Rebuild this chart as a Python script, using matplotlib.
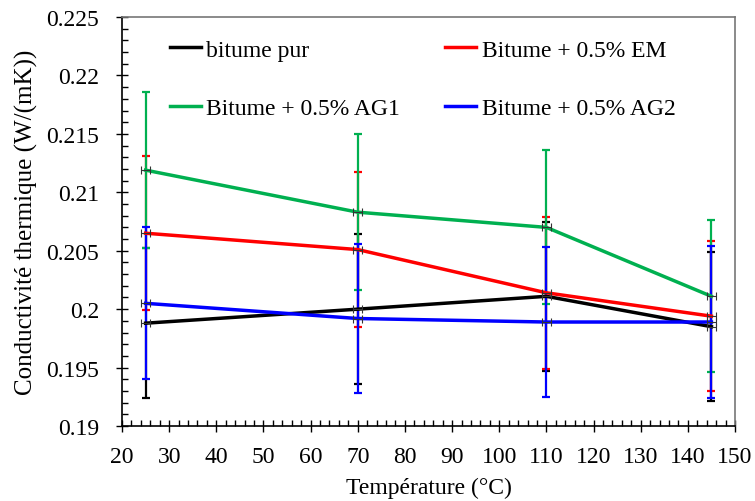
import matplotlib.pyplot as plt
from matplotlib.ticker import MultipleLocator

plt.rcParams['font.family'] = ['Liberation Serif', 'DejaVu Serif']

# températures (°C)
temperature = [25, 70, 110, 145]
x_err = [1, 1, 1, 1]

# conductivité thermique W/(mK)
bitume_pur = [0.1988, 0.2000, 0.2011, 0.1985]
bitume_em = [0.2065, 0.2051, 0.2014, 0.1994]
bitume_ag1 = [0.2119, 0.2083, 0.2070, 0.2011]
bitume_ag2 = [0.2005, 0.1992, 0.1989, 0.1989]

err_pur = [0.0064, 0.0064, 0.0064, 0.0064]
err_em = [0.0066, 0.0066, 0.0065, 0.0064]
err_ag1 = [0.0067, 0.0067, 0.0066, 0.0065]
err_ag2 = [0.0065, 0.0064, 0.0064, 0.0065]

labels = ['bitume pur', 'Bitume + 0.5% EM', 'Bitume + 0.5% AG1', 'Bitume + 0.5% AG2']
colors = ['black', '#ff0000', '#00b050', '#0000ff']
series = [bitume_pur, bitume_em, bitume_ag1, bitume_ag2]
errors = [err_pur, err_em, err_ag1, err_ag2]

fig = plt.figure(figsize=(7.55, 5.02), dpi=100)
ax = fig.add_axes([0.1616, 0.1494, 0.8119, 0.8146])

handles = {}
for lab, col, y, e in zip(labels, colors, series, errors):
    ax.errorbar(temperature, y, yerr=e, fmt='none', ecolor=col,
                elinewidth=1.6, capsize=3, capthick=1.6, zorder=2)
    ax.errorbar(temperature, y, xerr=x_err, fmt='none', ecolor='#333333',
                elinewidth=0.8, capsize=3, capthick=0.8, zorder=4)
    line, = ax.plot(temperature, y, color=col, lw=2.5, label=lab, zorder=3)
    handles[lab] = line

ax.set_xlim(20, 150)
ax.set_ylim(0.19, 0.225)
ax.xaxis.set_major_locator(MultipleLocator(10))
ax.xaxis.set_minor_locator(MultipleLocator(2))
ax.yaxis.set_major_locator(MultipleLocator(0.005))
ax.yaxis.set_minor_locator(MultipleLocator(0.001))
ax.yaxis.set_major_formatter(plt.FuncFormatter(lambda v, p: ('%.3f' % v).rstrip('0')))

ax.tick_params(which='major', direction='inout', length=9, width=1, labelsize=17,
               top=False, right=False)
ax.tick_params(which='minor', direction='in', length=4, width=1, top=False, right=False)
ax.tick_params(axis='x', which='major', pad=10)
ax.tick_params(axis='y', which='major', pad=12)

for side in ['left', 'bottom']:
    ax.spines[side].set_color('black')
for side in ['top', 'right']:
    ax.spines[side].set_color('#777777')
for s in ax.spines.values():
    s.set_linewidth(1.2)

ax.set_xlabel('Température (°C)', fontsize=17, labelpad=7)
ax.set_ylabel('Conductivité thermique (W/(mK))', fontsize=18, labelpad=6)

order = ['bitume pur', 'Bitume + 0.5% AG1', 'Bitume + 0.5% EM', 'Bitume + 0.5% AG2']
ax.legend([handles[k] for k in order], order, ncol=2, frameon=False, fontsize=17,
          loc='upper left', bbox_to_anchor=(0.078, 0.946), borderaxespad=0, borderpad=0,
          handlelength=1.3, columnspacing=1.9, labelspacing=1.55, handletextpad=0.25)

fig.savefig('out.png', dpi=100)
